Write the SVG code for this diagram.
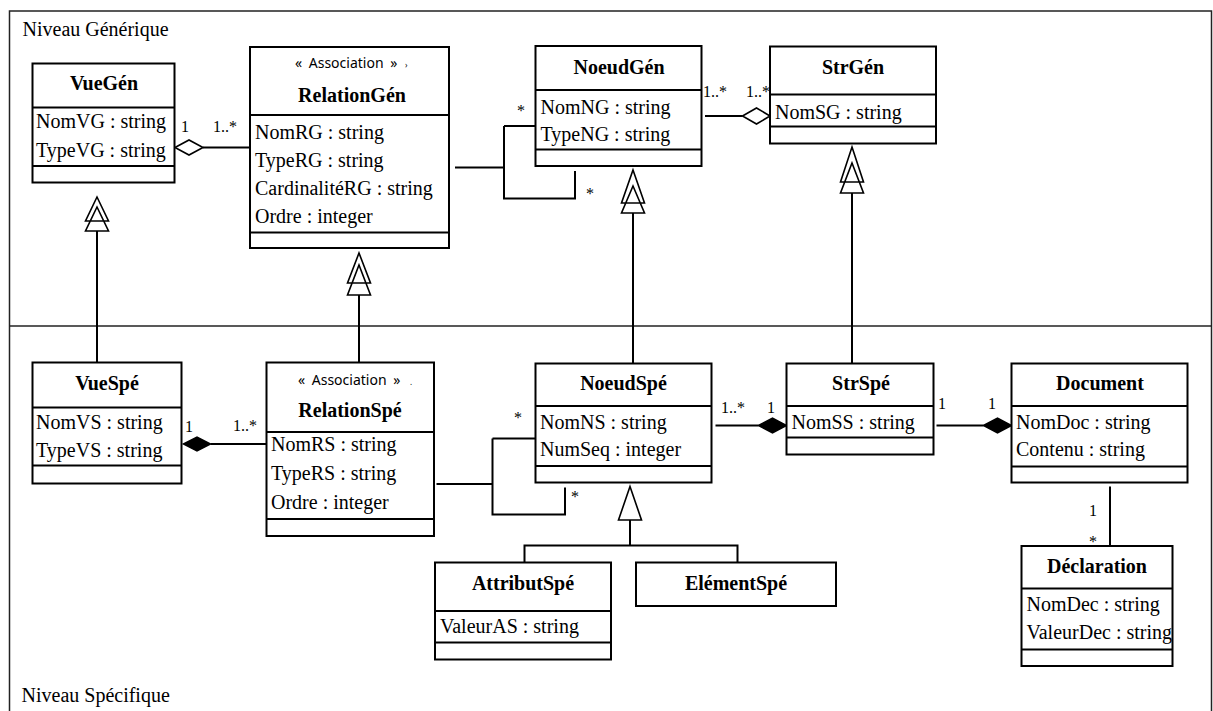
<svg xmlns="http://www.w3.org/2000/svg" width="1213" height="711" viewBox="0 0 1213 711">
<style>
.frame{fill:none;stroke:#222;stroke-width:1.5}
.box{fill:#fff;stroke:#000;stroke-width:2}
.sep{stroke:#000;stroke-width:2}
.ln{fill:none;stroke:#000;stroke-width:2}
.hd{fill:#fff;stroke:#000;stroke-width:1.6}
.fd{fill:#000;stroke:#000;stroke-width:1.5}
text{font-family:"Liberation Serif","Times New Roman",serif;font-size:20px;fill:#000}
.ti{font-weight:bold;text-anchor:middle}
.m{font-size:16px}
.mc{font-size:16px;text-anchor:middle}
.st{font-family:"Noto Sans","Open Sans",sans-serif;font-size:14px;word-spacing:3px}
.tiny{font-family:"Noto Sans",sans-serif;font-size:8px}
</style>
<rect class="frame" x="9.5" y="11" width="1202" height="706"/>
<line class="frame" x1="9.5" y1="326" x2="1211.5" y2="326"/>
<text x="22.5" y="36">Niveau Générique</text>
<text x="21.5" y="701.5">Niveau Spécifique</text>

<g id="connectors">
  <!-- VueGén - RelationGén -->
  <line class="ln" x1="203" y1="147.5" x2="250" y2="147.5"/>
  <polygon class="hd" points="175,147.5 189,140 203,147.5 189,155"/>
  <text class="m" x="181" y="132">1</text>
  <text class="m" x="213" y="132">1..*</text>
  <!-- RelationGén - NoeudGén self -->
  <path class="ln" d="M455,167.5 H504 M504,126 V198.5 H575 V171 M504,126 H535.5"/>
  <text class="mc" x="521" y="116">*</text>
  <text class="mc" x="590" y="199">*</text>
  <!-- NoeudGén - StrGén -->
  <line class="ln" x1="705" y1="116" x2="742.5" y2="116"/>
  <polygon class="hd" points="742.5,116 756.5,108 770,116 756.5,124"/>
  <text class="m" x="703" y="97">1..*</text>
  <text class="m" x="746" y="97">1..*</text>
  <!-- generalizations top -->
  <line class="ln" x1="97" y1="231" x2="97" y2="362.5"/>
  <path class="hd" d="M97,197 L108.5,221 L85.5,221 Z M97,207 L108.5,231 L85.5,231 Z"/>
  <line class="ln" x1="359" y1="295" x2="359" y2="362.5"/>
  <path class="hd" d="M359,253 L370.5,283 L347.5,283 Z M359,265 L370.5,295 L347.5,295 Z"/>
  <line class="ln" x1="633" y1="213" x2="633" y2="363.5"/>
  <path class="hd" d="M633,170 L644.5,203 L621.5,203 Z M633,186 L644.5,213 L621.5,213 Z"/>
  <line class="ln" x1="852" y1="193" x2="852" y2="363.5"/>
  <path class="hd" d="M852,147 L863.5,182 L840.5,182 Z M852,163 L863.5,193 L840.5,193 Z"/>
  <!-- VueSpé - RelationSpé -->
  <line class="ln" x1="210.5" y1="444" x2="266.5" y2="444"/>
  <polygon class="fd" points="183.5,444 197,437 210.5,444 197,451"/>
  <text class="m" x="185" y="431.5">1</text>
  <text class="m" x="233" y="431">1..*</text>
  <!-- RelationSpé - NoeudSpé self -->
  <path class="ln" d="M436.5,484 H492.5 M492.5,438.5 V514.5 H565 V487.5 M492.5,438.5 H535.5"/>
  <text class="mc" x="518" y="423">*</text>
  <text class="mc" x="575" y="502">*</text>
  <!-- NoeudSpé - StrSpé -->
  <line class="ln" x1="715.5" y1="425.5" x2="758.5" y2="425.5"/>
  <polygon class="fd" points="758.5,425.5 772.5,418 786.5,425.5 772.5,433"/>
  <text class="m" x="721" y="412.5">1..*</text>
  <text class="m" x="767" y="412.5">1</text>
  <!-- StrSpé - Document -->
  <line class="ln" x1="936.5" y1="425.5" x2="983.5" y2="425.5"/>
  <polygon class="fd" points="983.5,425.5 997.5,418 1011.5,425.5 997.5,433"/>
  <text class="m" x="938" y="409">1</text>
  <text class="m" x="988" y="409">1</text>
  <!-- Document - Déclaration -->
  <line class="ln" x1="1110" y1="486.5" x2="1110" y2="546"/>
  <text class="mc" x="1093" y="516">1</text>
  <text class="mc" x="1093" y="547">*</text>
  <!-- NoeudSpé generalization -->
  <path class="ln" d="M630,520 V545.5 M524.5,562.5 V545.5 H737.5 V562.5"/>
  <polygon class="hd" points="630,486.5 641.5,520 618.5,520"/>
</g>

<g id="VueGen">
  <rect class="box" x="32.5" y="63.5" width="142" height="119"/>
  <line class="sep" x1="32.5" y1="107.5" x2="174.5" y2="107.5"/>
  <line class="sep" x1="32.5" y1="166" x2="174.5" y2="166"/>
  <text class="ti" x="104" y="90">VueGén</text>
  <text x="36" y="128">NomVG : string</text>
  <text x="36" y="157">TypeVG : string</text>
</g>
<g id="RelationGen">
  <rect class="box" x="250" y="47" width="199" height="201"/>
  <line class="sep" x1="250" y1="115" x2="449" y2="115"/>
  <line class="sep" x1="250" y1="232.5" x2="449" y2="232.5"/>
  <text class="st" x="295" y="68">« Association »</text>
  <text class="tiny" x="405" y="68">›</text>
  <text class="ti" x="352" y="101.5">RelationGén</text>
  <text x="255" y="138.5">NomRG : string</text>
  <text x="255" y="166.5">TypeRG : string</text>
  <text x="255" y="194.5">CardinalitéRG : string</text>
  <text x="255" y="222.5">Ordre : integer</text>
</g>
<g id="NoeudGen">
  <rect class="box" x="535.5" y="46" width="166" height="120"/>
  <line class="sep" x1="535.5" y1="90" x2="701.5" y2="90"/>
  <line class="sep" x1="535.5" y1="149.5" x2="701.5" y2="149.5"/>
  <text class="ti" x="619" y="73.5">NoeudGén</text>
  <text x="540.5" y="113.5">NomNG : string</text>
  <text x="540.5" y="140.5">TypeNG : string</text>
</g>
<g id="StrGen">
  <rect class="box" x="770" y="46.5" width="166" height="97"/>
  <line class="sep" x1="770" y1="94.5" x2="936" y2="94.5"/>
  <line class="sep" x1="770" y1="126.5" x2="936" y2="126.5"/>
  <text class="ti" x="853" y="73.5">StrGén</text>
  <text x="775" y="118.5">NomSG : string</text>
</g>
<g id="VueSpe">
  <rect class="box" x="32.5" y="362.5" width="149" height="121"/>
  <line class="sep" x1="32.5" y1="407.5" x2="181.5" y2="407.5"/>
  <line class="sep" x1="32.5" y1="465.5" x2="181.5" y2="465.5"/>
  <text class="ti" x="107" y="390">VueSpé</text>
  <text x="36" y="428.5">NomVS : string</text>
  <text x="36" y="456.5">TypeVS : string</text>
</g>
<g id="RelationSpe">
  <rect class="box" x="266.5" y="362.5" width="167.5" height="173.5"/>
  <line class="sep" x1="266.5" y1="432" x2="434" y2="432"/>
  <line class="sep" x1="266.5" y1="519" x2="434" y2="519"/>
  <text class="st" x="298" y="385">« Association »</text>
  <text class="tiny" x="410" y="385">.</text>
  <text class="ti" x="350" y="416.5">RelationSpé</text>
  <text x="271" y="450.5">NomRS : string</text>
  <text x="271" y="479.5">TypeRS : string</text>
  <text x="271" y="508.5">Ordre : integer</text>
</g>
<g id="NoeudSpe">
  <rect class="box" x="535.5" y="363.5" width="176" height="119"/>
  <line class="sep" x1="535.5" y1="406" x2="711.5" y2="406"/>
  <line class="sep" x1="535.5" y1="466" x2="711.5" y2="466"/>
  <text class="ti" x="623.5" y="390">NoeudSpé</text>
  <text x="540" y="428.5">NomNS : string</text>
  <text x="540" y="456">NumSeq : integer</text>
</g>
<g id="StrSpe">
  <rect class="box" x="786.5" y="363.5" width="147" height="91"/>
  <line class="sep" x1="786.5" y1="406" x2="933.5" y2="406"/>
  <line class="sep" x1="786.5" y1="437.5" x2="933.5" y2="437.5"/>
  <text class="ti" x="861" y="390">StrSpé</text>
  <text x="791.5" y="428.5">NomSS : string</text>
</g>
<g id="Document">
  <rect class="box" x="1011.5" y="363.5" width="176" height="119"/>
  <line class="sep" x1="1011.5" y1="406" x2="1187.5" y2="406"/>
  <line class="sep" x1="1011.5" y1="466.5" x2="1187.5" y2="466.5"/>
  <text class="ti" x="1100" y="390">Document</text>
  <text x="1016" y="428.5">NomDoc : string</text>
  <text x="1016" y="456">Contenu : string</text>
</g>
<g id="Declaration">
  <rect class="box" x="1021.5" y="546" width="151" height="120"/>
  <line class="sep" x1="1021.5" y1="588.5" x2="1172.5" y2="588.5"/>
  <line class="sep" x1="1021.5" y1="649.5" x2="1172.5" y2="649.5"/>
  <text class="ti" x="1097" y="572.5">Déclaration</text>
  <text x="1026.5" y="610.5">NomDec : string</text>
  <text x="1026.5" y="638.5">ValeurDec : string</text>
</g>
<g id="AttributSpe">
  <rect class="box" x="435" y="562.5" width="176" height="97"/>
  <line class="sep" x1="435" y1="611" x2="611" y2="611"/>
  <line class="sep" x1="435" y1="642.5" x2="611" y2="642.5"/>
  <text class="ti" x="523" y="590">AttributSpé</text>
  <text x="440" y="632.5">ValeurAS : string</text>
</g>
<g id="ElementSpe">
  <rect class="box" x="636" y="562.5" width="200" height="43.5"/>
  <text class="ti" x="736" y="590">ElémentSpé</text>
</g>
</svg>
